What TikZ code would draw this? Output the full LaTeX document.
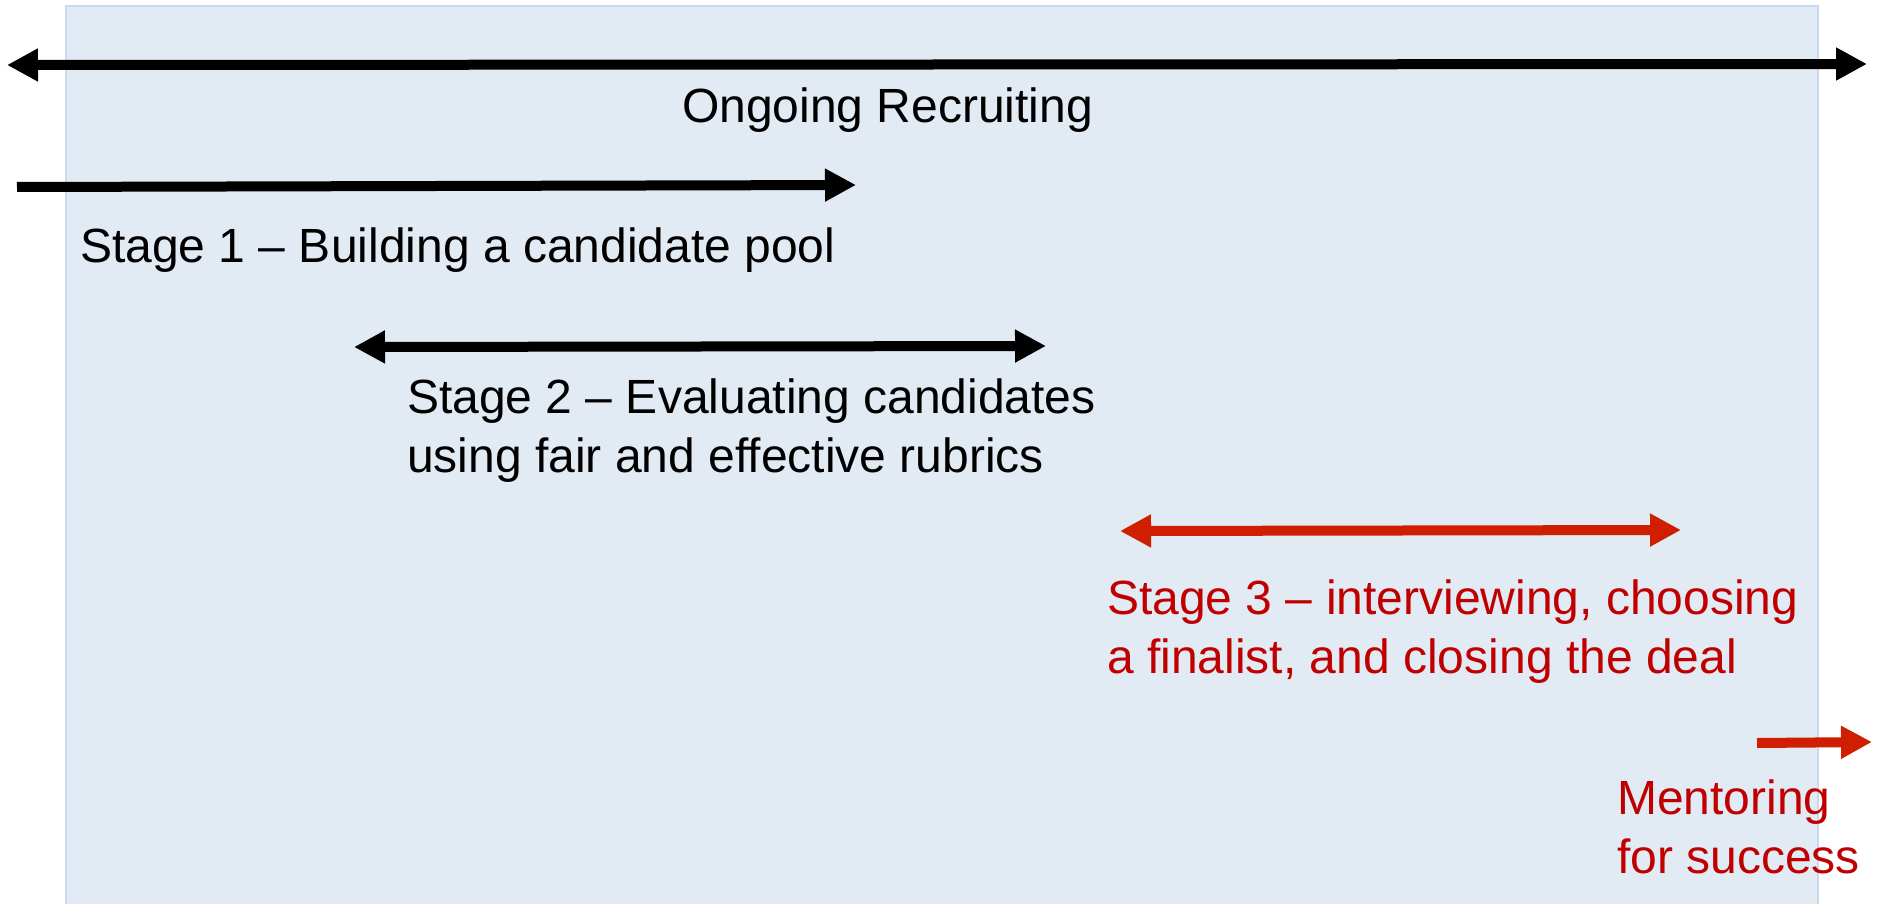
\documentclass[tikz,border=0pt]{standalone}
\usepackage{fontspec}
\setmainfont{Liberation Sans}
\usetikzlibrary{arrows.meta}
\definecolor{bgfill}{HTML}{E2EAF4}
\definecolor{bgline}{HTML}{C8DAEF}
\definecolor{arrred}{HTML}{D01E00}
\definecolor{txtred}{HTML}{C00000}
\tikzset{
  tl/.style={line width=10pt, -{Triangle[length=31pt,width=31pt]}},
  tlboth/.style={line width=10pt, {Triangle[length=31pt,width=31pt]}-{Triangle[length=31pt,width=31pt]}},
  lbl/.style={inner sep=0pt, anchor=base west, align=left, font=\fontsize{48}{58.5}\selectfont},
}
\begin{document}
\begin{tikzpicture}[x=1pt,y=-1pt]
\useasboundingbox (0,0) rectangle (1881,904);
\fill[bgfill] (66,6) rectangle (1818,910);
\draw[bgline, line width=2pt] (66,906) -- (66,6) -- (1818,6) -- (1818,906);
% coordinates
\coordinate (a0l) at (7,65);
\coordinate (a0r) at (1867,64);
\coordinate (a1l) at (17,187);
\coordinate (a1r) at (856,185);
\coordinate (a2l) at (354,347);
\coordinate (a2r) at (1046,346);
\coordinate (a3l) at (1120,531);
\coordinate (a3r) at (1681,530);
\coordinate (a4l) at (1757,743);
\coordinate (a4r) at (1872,742);
% arrows
\draw[tlboth] (a0l) -- (a0r);
\draw[tl] (a1l) -- (a1r);
\draw[tlboth] (a2l) -- (a2r);
\draw[tlboth, arrred] (a3l) -- (a3r);
\draw[tl, arrred] (a4l) -- (a4r);
% labels
\node[lbl] (t0) at (682,123) {Ongoing Recruiting};
\node[lbl] (t1) at (80,262) {Stage 1 – Building a candidate pool};
\node[lbl] (t2) at (407,472) {Stage 2 – Evaluating candidates\\using fair and effective rubrics};
\node[lbl, text=txtred] (t3) at (1107,673) {Stage 3 – interviewing, choosing\\a finalist, and closing the deal};
\node[lbl, text=txtred] (t4) at (1617,873) {Mentoring\\for success};
\end{tikzpicture}
\end{document}
